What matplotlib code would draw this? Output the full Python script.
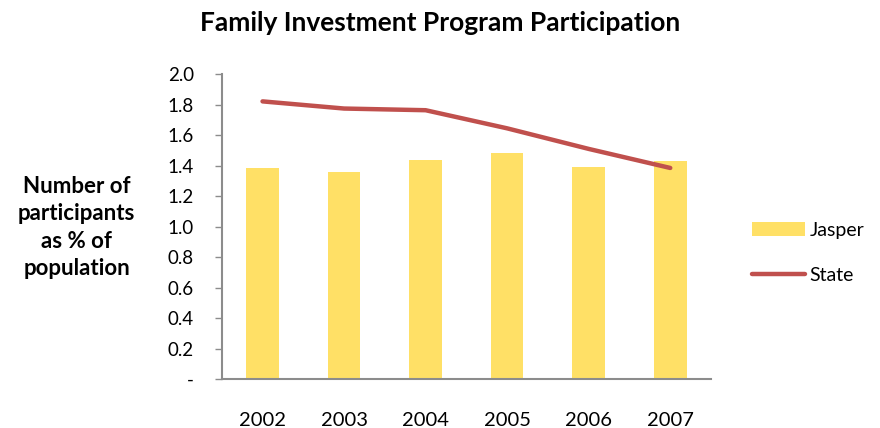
import numpy as np
import matplotlib
matplotlib.use("Agg")
import matplotlib.pyplot as plt
from matplotlib.patches import Patch
from matplotlib.lines import Line2D

plt.rcParams['font.family'] = ['Lato', 'DejaVu Sans']

# data
years = ["2002", "2003", "2004", "2005", "2006", "2007"]
jasper = [1.385, 1.36, 1.437, 1.482, 1.393, 1.43]
state = [1.822, 1.775, 1.764, 1.645, 1.51, 1.385]
yticks = [0, 0.2, 0.4, 0.6, 0.8, 1.0, 1.2, 1.4, 1.6, 1.8, 2.0]
ytick_labels = ["-", "0.2", "0.4", "0.6", "0.8", "1.0", "1.2", "1.4", "1.6", "1.8", "2.0"]

bar_color = "#FFE066"
line_color = "#C0504D"
axis_color = "#8C8C8C"

fig = plt.figure(figsize=(8.8, 4.28), dpi=100)
ax = fig.add_axes([0.252, 0.1145, 0.556, 0.712])

x = np.arange(len(years))
ax.bar(x, jasper, width=0.4, color=bar_color, zorder=2)
ax.plot(x, state, color=line_color, linewidth=3.2, solid_capstyle='round', zorder=3)

ax.set_xlim(-0.5, len(years) - 0.5)
ax.set_ylim(0, 2.0)
ax.set_yticks(yticks)
ax.set_yticklabels(ytick_labels, fontsize=13.5)
ax.set_xticks(x)
ax.set_xticklabels(years, fontsize=14.5)

for s in ["top", "right"]:
    ax.spines[s].set_visible(False)
for s in ["left", "bottom"]:
    ax.spines[s].set_color(axis_color)
    ax.spines[s].set_linewidth(1.5)
ax.tick_params(axis='y', direction='out', length=5, color=axis_color, width=1, pad=15)
ax.tick_params(axis='x', length=0, pad=24)

fig.text(0.5, 0.946, "Family Investment Program Participation", ha='center', va='center',
         fontsize=19, fontweight='bold')
fig.text(0.087, 0.468, "Number of\nparticipants\nas % of\npopulation", ha='center', va='center',
         fontsize=16, fontweight='bold', linespacing=1.38)

handles = [Patch(facecolor=bar_color, edgecolor='none'),
           Line2D([0], [0], color=line_color, linewidth=3.2, solid_capstyle='round')]
fig.legend(handles, ["Jasper", "State"], loc='upper left', bbox_to_anchor=(0.846, 0.5),
           frameon=False, fontsize=14, handlelength=2.7, handleheight=0.72,
           handletextpad=0.25, labelspacing=1.45, borderaxespad=0)

fig.savefig("out.png", dpi=100)
